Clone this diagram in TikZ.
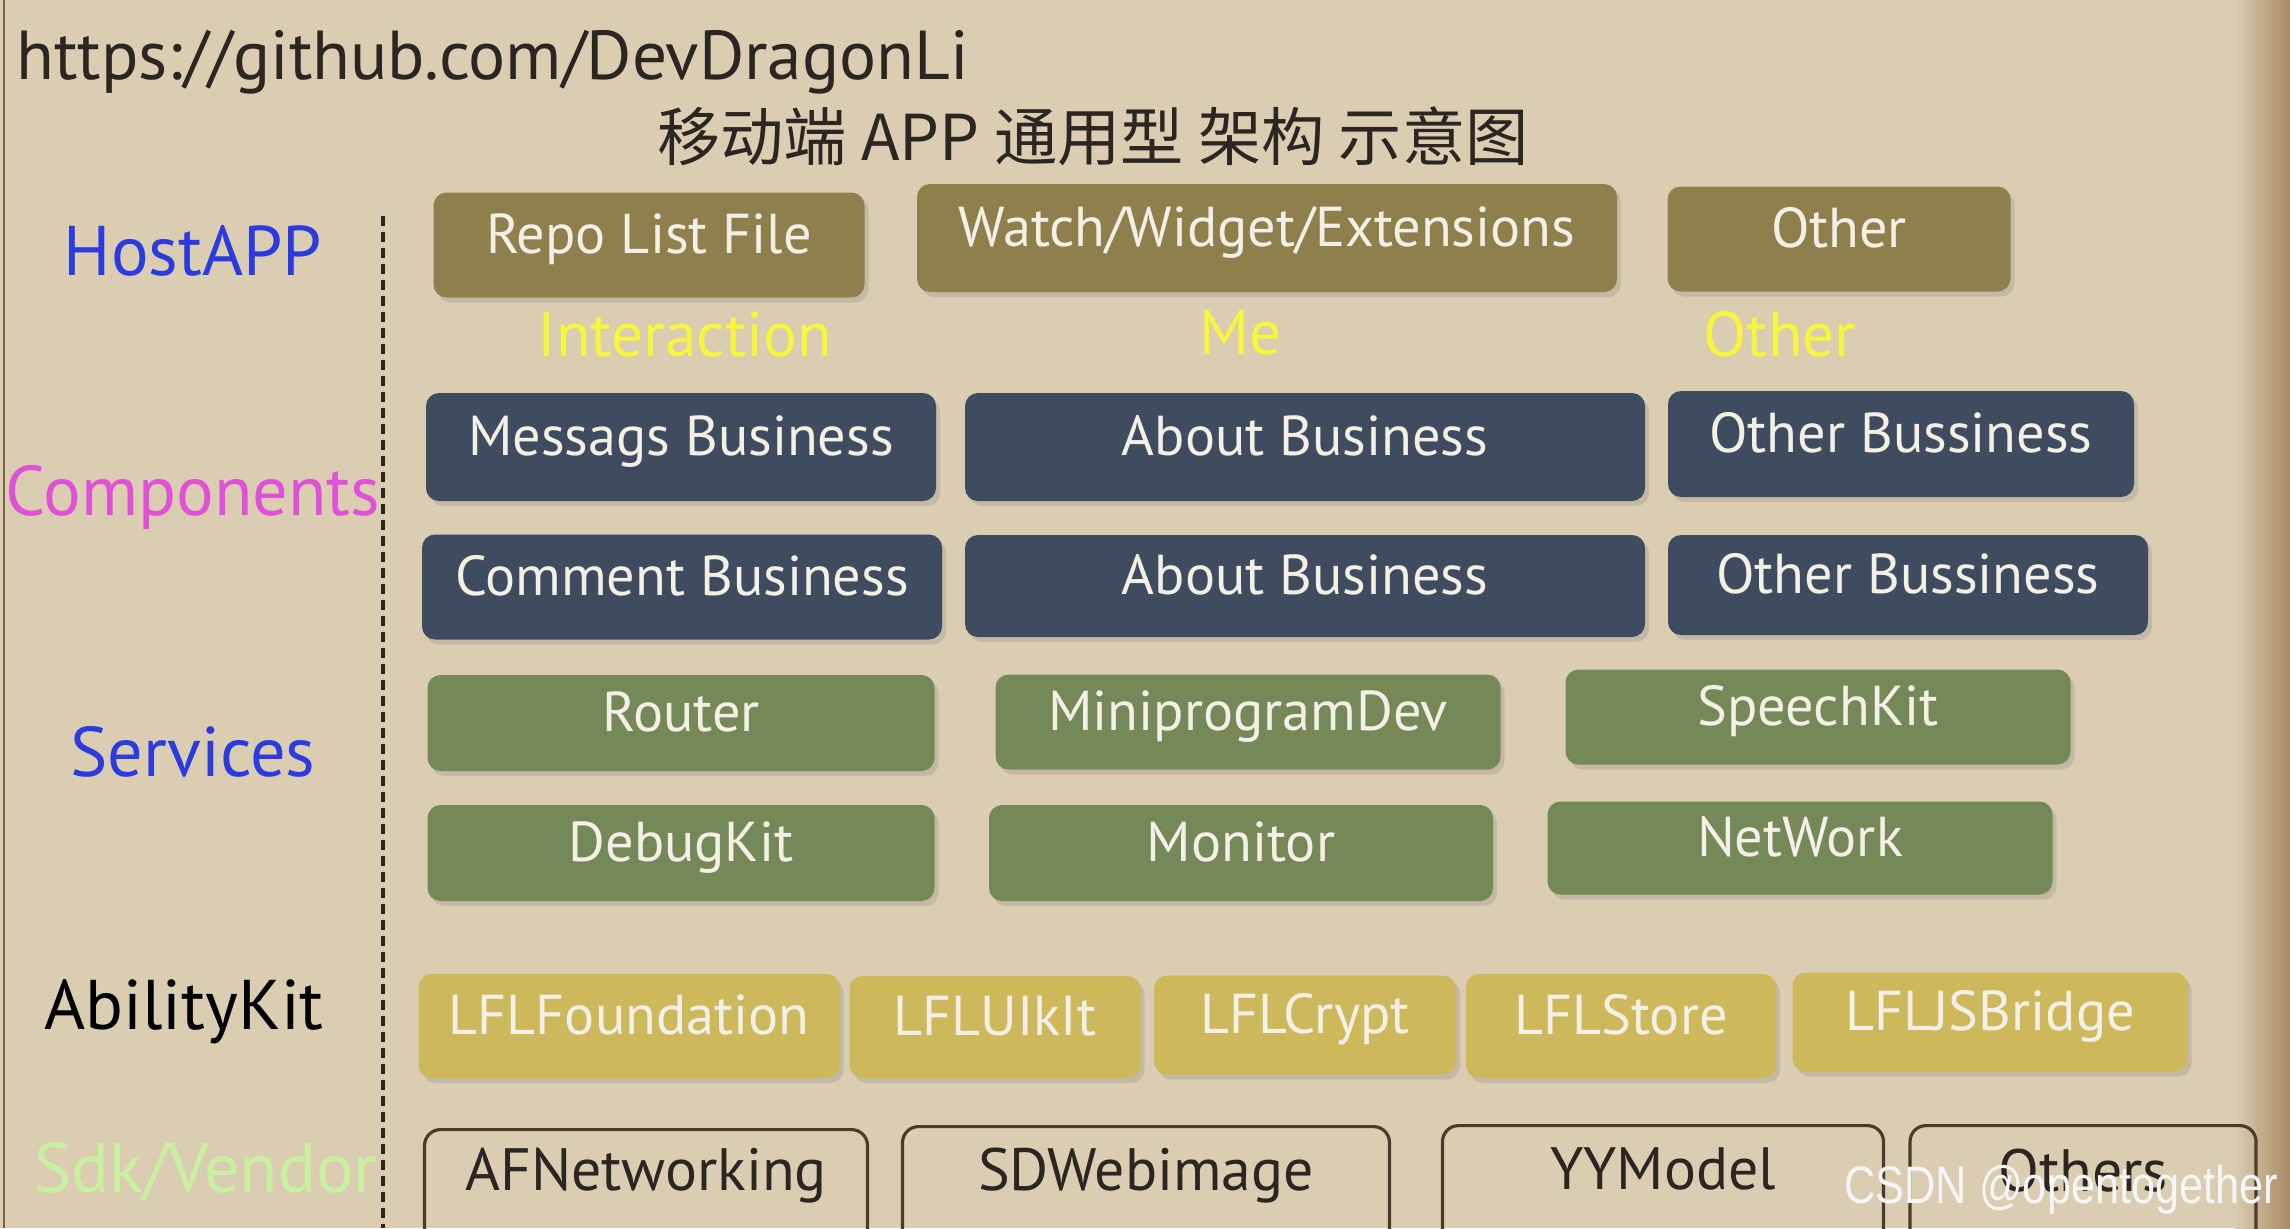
\documentclass[tikz,border=0pt]{standalone}
\usepackage{fontspec}
\setmainfont{PT Sans}
\newfontfamily\cjkfont{Noto Sans CJK SC}
\newfontfamily\markfont{Liberation Sans}
\usetikzlibrary{calc,shadows}
\definecolor{PaperBase}{HTML}{DACDB2}
\definecolor{PaperEdge}{HTML}{A88A62}
\definecolor{HostOlive}{HTML}{8F7F4C}
\definecolor{CompSlate}{HTML}{3F4C60}
\definecolor{ServGreen}{HTML}{758858}
\definecolor{AbilityGold}{HTML}{CEB85C}
\definecolor{VendorLine}{HTML}{4A3B2C}
\definecolor{LabelBlue}{HTML}{2B3BE0}
\definecolor{LabelPink}{HTML}{E050D8}
\definecolor{LabelLime}{HTML}{CBEFA2}
\definecolor{TagYellow}{HTML}{F6F63C}
\definecolor{InkDark}{HTML}{2B2621}
\definecolor{BoxText}{HTML}{F4F0E6}

\begin{document}
\begin{tikzpicture}[x=0.1mm,y=-0.1mm,
  layer/.style={rounded corners=1.3mm,text=BoxText,inner sep=0pt,
    text height=0.75em,text depth=0.28em,
    font=\fontsize{16}{19}\selectfont,
    drop shadow={shadow xshift=0.4mm,shadow yshift=-0.5mm,opacity=0.25}},
  hostbox/.style={layer,fill=HostOlive},
  compbox/.style={layer,fill=CompSlate},
  servbox/.style={layer,fill=ServGreen},
  abilitybox/.style={layer,fill=AbilityGold},
  vendorbox/.style={draw=VendorLine,line width=0.9pt,rounded corners=1.6mm,inner sep=0pt},
  vendortext/.style={text=InkDark,font=\fontsize{17}{20}\selectfont},
  side/.style={font=\fontsize{20}{24}\selectfont},
  tag/.style={text=TagYellow,font=\fontsize{18}{22}\selectfont}]
  \useasboundingbox (0,0) rectangle (2290,1228);
  \clip (0,0) rectangle (2290,1228);
  % paper
  \fill[PaperBase] (0,0) rectangle (2290,1228);
  \shade[left color=PaperBase,right color=PaperEdge] (2235,0) rectangle (2290,1228);
  \draw[PaperEdge!70!black,line width=0.6pt] (4,0) -- (4,1228);
  % header
  \node[anchor=west,text=InkDark,font=\fontsize{19.7}{23}\selectfont] (url) at (4,62)
    {https://github.com/DevDragonLi};
  \node[text=InkDark,font=\cjkfont\fontsize{18}{21}\selectfont] (title) at (1093,136)
    {移动端 APP 通用型 架构 示意图};
  % layer names
  \node[side,text=LabelBlue] (hostapp) at (193,251) {HostAPP};
  \node[side,text=LabelPink] (components) at (193,497) {Components};
  \node[side,text=LabelBlue] (services) at (193,752) {Services};
  \node[side,text=black] (abilitykit) at (184,1012) {AbilityKit};
  \node[side,text=LabelLime] (sdkvendor) at (206,1172) {Sdk/Vendor};
  \coordinate (divtop) at (383,216);
  \coordinate (divbot) at (383,1228);
  \draw[InkDark,line width=1pt,dash pattern=on 1mm off 0.6mm] (divtop) -- (divbot);
  % HostAPP
  \node[hostbox,minimum width=43.1mm,minimum height=10.5mm] (repo) at (649,245) {Repo List File};
  \node[hostbox,minimum width=70mm,minimum height=10.8mm] (watch) at (1267,238) {Watch/Widget/Extensions};
  \node[hostbox,minimum width=34.3mm,minimum height=10.5mm] (hostother) at (1839,239) {Other};
  \node[tag] (interaction) at (685,334) {Interaction};
  \node[tag] (me) at (1241,333) {Me};
  \node[tag] (tagother) at (1780,334) {Other};
  % Components
  \node[compbox,minimum width=51mm,minimum height=10.8mm] (messags) at (681,447) {Messags Business};
  \node[compbox,minimum width=68mm,minimum height=10.8mm] (aboutA) at (1305,447) {About Business};
  \node[compbox,minimum width=46.6mm,minimum height=10.6mm] (otherA) at (1901,444) {Other Bussiness};
  \node[compbox,minimum width=52mm,minimum height=10.5mm] (comment) at (682,587) {Comment Business};
  \node[compbox,minimum width=68mm,minimum height=10.2mm] (aboutB) at (1305,586) {About Business};
  \node[compbox,minimum width=48mm,minimum height=10mm] (otherB) at (1908,585) {Other Bussiness};
  % Services
  \node[servbox,minimum width=50.7mm,minimum height=9.6mm] (router) at (681,723) {Router};
  \node[servbox,minimum width=50.5mm,minimum height=9.5mm] (miniprogram) at (1248,722) {MiniprogramDev};
  \node[servbox,minimum width=50.5mm,minimum height=9.5mm] (speechkit) at (1818,717) {SpeechKit};
  \node[servbox,minimum width=50.7mm,minimum height=9.6mm] (debugkit) at (681,853) {DebugKit};
  \node[servbox,minimum width=50.4mm,minimum height=9.6mm] (monitor) at (1241,853) {Monitor};
  \node[servbox,minimum width=50.5mm,minimum height=9.3mm] (network) at (1800,848) {NetWork};
  % AbilityKit
  \node[abilitybox,minimum width=42.1mm,minimum height=10.4mm] (foundation) at (629,1026) {LFLFoundation};
  \node[abilitybox,minimum width=29.1mm,minimum height=10.2mm] (uikit) at (995,1027) {LFLUIkIt};
  \node[abilitybox,minimum width=30.2mm,minimum height=9.9mm] (crypt) at (1305,1025) {LFLCrypt};
  \node[abilitybox,minimum width=31mm,minimum height=10.4mm] (store) at (1621,1026) {LFLStore};
  \node[abilitybox,minimum width=39.5mm,minimum height=9.9mm] (jsbridge) at (1990,1022) {LFLJSBridge};
  % Sdk/Vendor
  \node[vendorbox,minimum width=44.3mm,minimum height=13mm,anchor=north] (afn) at (646,1128) {};
  \node[vendorbox,minimum width=48.7mm,minimum height=13mm,anchor=north] (sdweb) at (1146,1125) {};
  \node[vendorbox,minimum width=44.1mm,minimum height=13mm,anchor=north] (yymodel) at (1663,1124) {};
  \node[vendorbox,minimum width=34.6mm,minimum height=13mm,anchor=north] (others) at (2083,1124) {};
  \node[vendortext] (afntext) at ($(afn.north)+(0,48)$) {AFNetworking};
  \node[vendortext] (sdwebtext) at ($(sdweb.north)+(0,51)$) {SDWebimage};
  \node[vendortext] (yymodeltext) at ($(yymodel.north)+(0,45)$) {YYModel};
  \node[vendortext] (otherstext) at ($(others.north)+(0,47)$) {Others};
  % watermark
  \node[anchor=east,text=white!93!gray,font=\markfont\fontsize{15}{18}\selectfont,xscale=0.82] (csdn) at (2288,1190)
    {CSDN @opentogether};
\end{tikzpicture}
\end{document}
